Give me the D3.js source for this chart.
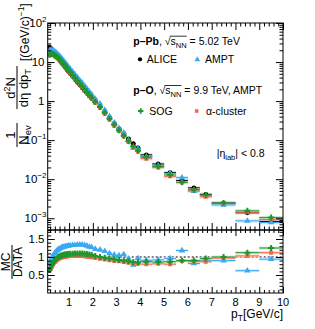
<!DOCTYPE html>
<html lang="en">
<head>
<meta charset="utf-8">
<title>pT spectra p-Pb / p-O</title>
<script src="https://d3js.org/d3.v7.min.js"></script>
<style>
body{margin:0;background:#fff}
text{font-family:"Liberation Sans",Arial,sans-serif;fill:#000}
</style>
</head>
<body>
<script>
// bin centres and widths (GeV/c)
var pt = [0.175,0.225,0.275,0.325,0.375,0.425,0.475,0.525,0.575,0.625,0.675,0.725,0.775,0.825,0.875,0.925,0.975,
          1.05,1.15,1.25,1.35,1.45,1.55,1.65,1.75,1.85,1.95,
          2.1,2.3,2.5,2.7,2.9,3.1,3.3,3.5,3.7,3.9,
          4.25,4.75,5.25,5.75,6.25,6.75,
          7.5,8.5,9.5];
var binW = [0.05,0.05,0.05,0.05,0.05,0.05,0.05,0.05,0.05,0.05,0.05,0.05,0.05,0.05,0.05,0.05,0.05,
            0.1,0.1,0.1,0.1,0.1,0.1,0.1,0.1,0.1,0.1,
            0.2,0.2,0.2,0.2,0.2,0.2,0.2,0.2,0.2,0.2,
            0.5,0.5,0.5,0.5,0.5,0.5,
            1,1,1];

// ALICE p-Pb 5.02 TeV, 1/Nev d2N/deta dpT
var alice = [24.0,22.4,20.9,19.1,17.4,15.8,14.5,13.2,12.0,11.0,10.0,9.1,8.3,7.6,6.9,6.3,5.75,
             5.07,4.27,3.59,3.02,2.57,2.19,1.86,1.58,1.36,1.17,
             0.93,0.71,0.51,0.37,0.263,0.195,0.145,0.107,0.081,0.063,
             0.042,0.0245,0.0148,0.0093,0.0060,0.0041,
             0.00245,0.00138,0.00083];

// MC / DATA ratios
var rAmpt = [0.82,0.90,0.98,1.04,1.09,1.13,1.17,1.20,1.22,1.24,1.26,1.27,1.28,1.29,1.30,1.30,1.31,
             1.32,1.33,1.33,1.34,1.34,1.34,1.33,1.31,1.28,1.27,
             1.22,1.20,1.16,1.10,1.06,1.04,1.07,0.95,0.78,0.96,
             0.91,0.92,0.96,1.18,0.82,0.91,
             0.90,0.62,0.94];
var rSog = [0.64,0.71,0.78,0.84,0.89,0.93,0.96,0.99,1.01,1.03,1.04,1.05,1.06,1.07,1.07,1.08,1.08,
            1.09,1.09,1.10,1.10,1.10,1.10,1.09,1.08,1.07,1.06,
            1.03,1.00,0.98,0.96,0.94,0.92,0.90,0.88,0.86,0.85,
            0.87,0.86,0.87,0.90,0.90,0.96,
            1.00,1.12,1.25];
var rAlpha = [0.62,0.68,0.74,0.79,0.84,0.87,0.90,0.93,0.95,0.97,0.98,0.99,1.00,1.01,1.01,1.02,1.02,
              1.03,1.03,1.03,1.03,1.03,1.03,1.02,1.01,1.00,0.99,
              0.97,0.95,0.93,0.91,0.89,0.88,0.86,0.84,0.82,0.81,
              0.80,0.81,0.80,0.89,0.87,0.87,
              0.97,1.03,1.12];
var relErr = 0.1;

var xTicks = [1,2,3,4,5,6,7,8,9,10];
var yDecades = [1e-3,1e-2,1e-1,1,10,100];
var yDecLabels = [["10","\u22123"],["10","\u22122"],["10","\u22121"],["1",""],["10",""],["10","2"]];
var rTicks = [0.5,1,1.5];

var W = 315, H = 329;
var svg = d3.select("body").append("svg").attr("width", W).attr("height", H);

var x = d3.scaleLinear().domain([0.1, 10]).range([47.7, 283]);
var y = d3.scaleLog().domain([5e-4, 100]).range([230, 23]);
var yr = d3.scaleLinear().domain([0, 1.75]).range([293, 230]);

var cBlue = "#3aa8f2", cGreen = "#1f962c", cRed = "#f4694d";
var lBlue = "#c3e4fb", lGreen = "#bfe2c2", lRed = "#fccabd";

var series = [
  {name:"alice", r:null, col:"#000", light:"#d8d8d8", sym:d3.symbolCircle, size:18},
  {name:"ampt", r:rAmpt, col:cBlue, light:lBlue, sym:d3.symbolTriangle, size:18},
  {name:"alpha", r:rAlpha, col:cRed, light:lRed, sym:d3.symbolSquare, size:16},
  {name:"sog", r:rSog, col:cGreen, light:lGreen, sym:d3.symbolCross, size:20}
];
series.forEach(function(s){
  s.pts = pt.map(function(p,i){
    var v = s.r ? alice[i]*s.r[i] : alice[i];
    return {pt:p, w:binW[i], v:v, ratio: s.r ? s.r[i] : 1};
  });
});

// clip paths
var defs = svg.append("defs");
defs.append("clipPath").attr("id","cTop").append("rect")
  .attr("x",47.7).attr("y",23).attr("width",283-47.7).attr("height",207);
defs.append("clipPath").attr("id","cBot").append("rect")
  .attr("x",47.7).attr("y",230).attr("width",283-47.7).attr("height",63);

// ---------- top panel marks ----------
var gTop = svg.append("g").attr("clip-path","url(#cTop)");
series.forEach(function(s){
  gTop.append("g").selectAll("rect").data(s.pts).enter().append("rect")
    .attr("x", function(d){ return x(d.pt - d.w/2); })
    .attr("width", function(d){ return x(d.pt + d.w/2) - x(d.pt - d.w/2); })
    .attr("y", function(d){ return y(d.v*(1+relErr)); })
    .attr("height", function(d){ return y(d.v*(1-relErr)) - y(d.v*(1+relErr)); })
    .attr("fill", s.light).attr("opacity", 0.8);
});
series.forEach(function(s){
  gTop.append("g").selectAll("line").data(s.pts).enter().append("line")
    .attr("x1", function(d){ return x(d.pt - d.w/2); })
    .attr("x2", function(d){ return x(d.pt + d.w/2); })
    .attr("y1", function(d){ return y(d.v); })
    .attr("y2", function(d){ return y(d.v); })
    .attr("stroke", s.col).attr("stroke-width", 1);
});
series.forEach(function(s){
  gTop.append("g").selectAll("path").data(s.pts).enter().append("path")
    .attr("d", d3.symbol().type(s.sym).size(s.size))
    .attr("transform", function(d){ return "translate(" + x(d.pt) + "," + y(d.v) + ")"; })
    .attr("fill", s.col);
});

// ---------- bottom panel marks ----------
var gBot = svg.append("g").attr("clip-path","url(#cBot)");
gBot.append("line").attr("x1",x(0.1)).attr("x2",x(10)).attr("y1",yr(1)).attr("y2",yr(1))
  .attr("stroke","#000").attr("stroke-width",1).attr("stroke-dasharray","2,2");
var models = series.slice(1);
models.forEach(function(s){
  gBot.append("g").selectAll("rect").data(s.pts).enter().append("rect")
    .attr("x", function(d){ return x(d.pt - d.w/2); })
    .attr("width", function(d){ return x(d.pt + d.w/2) - x(d.pt - d.w/2); })
    .attr("y", function(d){ return yr(d.ratio + 0.04); })
    .attr("height", function(d){ return yr(d.ratio - 0.04) - yr(d.ratio + 0.04); })
    .attr("fill", s.light).attr("opacity", 0.8);
});
models.forEach(function(s){
  gBot.append("g").selectAll("line").data(s.pts).enter().append("line")
    .attr("x1", function(d){ return x(d.pt - d.w/2); })
    .attr("x2", function(d){ return x(d.pt + d.w/2); })
    .attr("y1", function(d){ return yr(d.ratio); })
    .attr("y2", function(d){ return yr(d.ratio); })
    .attr("stroke", s.col).attr("stroke-width", 1);
});
models.forEach(function(s){
  gBot.append("g").selectAll("path").data(s.pts).enter().append("path")
    .attr("d", d3.symbol().type(s.sym).size(s.size))
    .attr("transform", function(d){ return "translate(" + x(d.pt) + "," + yr(d.ratio) + ")"; })
    .attr("fill", s.col);
});

// ---------- axes / ticks ----------
var xMinor = d3.range(0.2, 10.001, 0.2).filter(function(v){ return Math.abs(v - Math.round(v)) > 1e-6; });
var yMinor = [];
[1e-4,1e-3,1e-2,1e-1,1,10].forEach(function(d){ for (var k=2;k<=9;k++){ var v=d*k; if (v>=5e-4 && v<=100) yMinor.push(v); } });
var rMinor = d3.range(0.1, 1.75, 0.1).filter(function(v){ return Math.abs(v*2 - Math.round(v*2)) > 1e-6; });

function ticks(axis, tx, ty, vals, len){
  svg.append("g").attr("transform","translate(" + tx + "," + ty + ")")
    .call(axis.tickValues(vals).tickSize(-len).tickFormat(""))
    .call(function(g){ g.select(".domain").remove(); g.selectAll("line").attr("stroke","#000"); });
}
// top panel
ticks(d3.axisLeft(y), 47.7, 0, yDecades, 7);
ticks(d3.axisLeft(y), 47.7, 0, yMinor, 3.5);
ticks(d3.axisRight(y), 283, 0, yDecades, 7);
ticks(d3.axisRight(y), 283, 0, yMinor, 3.5);
ticks(d3.axisTop(x), 0, 23, xTicks, 7);
ticks(d3.axisTop(x), 0, 23, xMinor, 3.5);
ticks(d3.axisBottom(x), 0, 230, xTicks, 7);
ticks(d3.axisBottom(x), 0, 230, xMinor, 3.5);
// bottom panel
ticks(d3.axisTop(x), 0, 230, xTicks, 6);
ticks(d3.axisTop(x), 0, 230, xMinor, 3);
ticks(d3.axisBottom(x), 0, 293, xTicks, 6);
ticks(d3.axisBottom(x), 0, 293, xMinor, 3);
ticks(d3.axisLeft(yr), 47.7, 0, rTicks, 7);
ticks(d3.axisLeft(yr), 47.7, 0, rMinor, 3.5);
ticks(d3.axisRight(yr), 283, 0, rTicks, 7);
ticks(d3.axisRight(yr), 283, 0, rMinor, 3.5);

// frames
svg.append("rect").attr("x",47.7).attr("y",23).attr("width",283-47.7).attr("height",207)
  .attr("fill","none").attr("stroke","#000").attr("stroke-width",1);
svg.append("rect").attr("x",47.7).attr("y",230).attr("width",283-47.7).attr("height",63)
  .attr("fill","none").attr("stroke","#000").attr("stroke-width",1);

// tick labels
yDecades.forEach(function(v,i){
  var lab = yDecLabels[i];
  var t = svg.append("text").attr("y", y(v) + 4).attr("font-size", 11.5).attr("text-anchor","end");
  if (lab[1]) {
    t.attr("x", 46.5);
    t.append("tspan").text(lab[0]);
    t.append("tspan").attr("dy", -5).attr("font-size", 8).text(lab[1]);
  } else {
    t.attr("x", 44.5).text(lab[0]);
  }
});
rTicks.forEach(function(v){
  svg.append("text").attr("x",44.5).attr("y",yr(v)+4).attr("font-size",11.5)
    .attr("text-anchor","end").text(v);
});
xTicks.forEach(function(v){
  svg.append("text").attr("x",x(v)).attr("y",306).attr("font-size",11)
    .attr("text-anchor","middle").text(v);
});

// x title
var xt = svg.append("text").attr("x",283).attr("y",318).attr("font-size",12).attr("text-anchor","end");
xt.append("tspan").text("p");
xt.append("tspan").attr("dy",3).attr("font-size",8.5).text("T");
xt.append("tspan").attr("dy",-3).text("[GeV/c]");

// y title (top)
var yt = svg.append("g").attr("transform","translate(17,170) rotate(-90)");
yt.append("text").attr("x",35).attr("y",-2.5).attr("font-size",13).attr("text-anchor","middle").text("1");
yt.append("line").attr("x1",23).attr("x2",47).attr("y1",0).attr("y2",0).attr("stroke","#000");
var nev = yt.append("text").attr("x",35).attr("y",10.5).attr("font-size",13).attr("text-anchor","middle");
nev.append("tspan").text("N");
nev.append("tspan").attr("dy",3).attr("font-size",9.5).text("ev");
var num2 = yt.append("text").attr("x",82).attr("y",-2.5).attr("font-size",13).attr("text-anchor","middle");
num2.append("tspan").text("d");
num2.append("tspan").attr("dy",-5).attr("font-size",9).text("2");
num2.append("tspan").attr("dy",5).text("N");
yt.append("line").attr("x1",61).attr("x2",104).attr("y1",0).attr("y2",0).attr("stroke","#000");
var den2 = yt.append("text").attr("x",82).attr("y",10.5).attr("font-size",13).attr("text-anchor","middle");
den2.append("tspan").text("d\u03b7 dp");
den2.append("tspan").attr("dy",3).attr("font-size",9.5).text("T");
var unit = yt.append("text").attr("x",109).attr("y",12).attr("font-size",12);
unit.append("tspan").text("[(GeV/c)");
unit.append("tspan").attr("dy",-5).attr("font-size",8.5).text("\u22121");
unit.append("tspan").attr("dy",5).text("]");

// y title (bottom)
var rt = svg.append("g").attr("transform","translate(12,262) rotate(-90)");
rt.append("text").attr("x",0).attr("y",-2).attr("font-size",12).attr("text-anchor","middle").text("MC");
rt.append("line").attr("x1",-17).attr("x2",17).attr("y1",0).attr("y2",0).attr("stroke","#000");
rt.append("text").attr("x",0).attr("y",10).attr("font-size",12).attr("text-anchor","middle").text("DATA");

// ---------- legend ----------
function sqrtLine(t, iSqrt, iEnd){
  var node = t.node();
  var a = node.getExtentOfChar(iSqrt), b = node.getExtentOfChar(iEnd);
  svg.append("line").attr("x1", a.x + a.width*0.85).attr("x2", b.x + b.width)
    .attr("y1", a.y + 1.2).attr("y2", a.y + 1.2).attr("stroke","#000").attr("stroke-width",0.8);
}
function header(xx, yy, bold, rest){
  var t = svg.append("text").attr("x",xx).attr("y",yy).attr("font-size",10.5);
  t.append("tspan").attr("font-weight","bold").text(bold);
  t.append("tspan").text(", \u221a");
  t.append("tspan").text("s");
  t.append("tspan").attr("dy",2.5).attr("font-size",7.5).text("NN");
  t.append("tspan").attr("dy",-2.5).text(rest);
  var i0 = bold.length + 2;
  sqrtLine(t, i0, i0 + 3);
}
header(133.3, 45, "p\u2013Pb", " = 5.02 TeV");
header(133.3, 94.3, "p\u2013O", " = 9.9 TeV, AMPT");

function legItem(s, mx, my, tx, label){
  svg.append("path").attr("d", d3.symbol().type(s.sym).size(s.size*0.8))
    .attr("transform","translate(" + mx + "," + my + ")").attr("fill", s.col);
  svg.append("text").attr("x",tx).attr("y",my+3.8).attr("font-size",10.5).text(label);
}
legItem(series[0], 140, 59.3, 146.7, "ALICE");
legItem(series[1], 197.3, 59.5, 205, "AMPT");
legItem(series[3], 140.7, 111, 149.3, "SOG");
legItem(series[2], 196.7, 111, 206, "\u03b1-cluster");

var eta = svg.append("text").attr("x",216.7).attr("y",157).attr("font-size",10.5);
eta.append("tspan").text("|\u03b7");
eta.append("tspan").attr("dy",2.5).attr("font-size",7.5).text("lab");
eta.append("tspan").attr("dy",-2.5).text("| < 0.8");
</script>
</body>
</html>
